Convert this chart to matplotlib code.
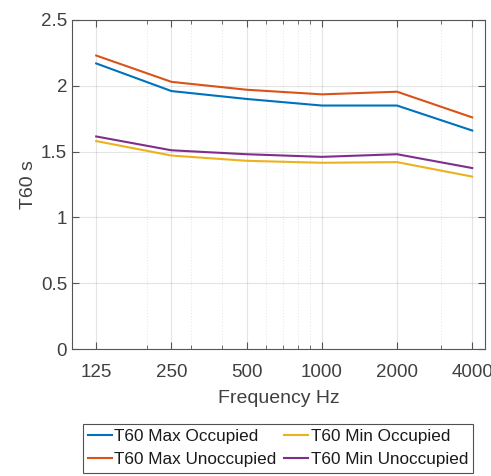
import matplotlib
matplotlib.use('Agg')
import matplotlib.pyplot as plt
from matplotlib.ticker import FixedLocator, FixedFormatter, LogLocator, NullFormatter

# Data
freqs = [125, 250, 500, 1000, 2000, 4000]
tick_labels = ['125', '250', '500', '1000', '2000', '4000']

max_occupied = [2.17, 1.96, 1.90, 1.85, 1.85, 1.66]
max_unoccupied = [2.23, 2.03, 1.97, 1.935, 1.955, 1.76]
min_occupied = [1.58, 1.47, 1.43, 1.415, 1.42, 1.31]
min_unoccupied = [1.615, 1.51, 1.48, 1.46, 1.48, 1.375]

plt.rcParams['font.family'] = ['Liberation Sans', 'DejaVu Sans']
text_col = '#404040'

fig = plt.figure(figsize=(4.91, 4.76), dpi=100)
ax = fig.add_axes([0.1466, 0.2668, 0.8412, 0.6912])

ax.plot(freqs, max_occupied, color='#0072BD', linewidth=1.5, label='T60 Max Occupied')
ax.plot(freqs, max_unoccupied, color='#D95319', linewidth=1.5, label='T60 Max Unoccupied')
ax.plot(freqs, min_occupied, color='#EDB120', linewidth=1.5, label='T60 Min Occupied')
ax.plot(freqs, min_unoccupied, color='#7E2F8E', linewidth=1.5, label='T60 Min Unoccupied')

ax.set_xscale('log')
ax.set_xlim(100, 4500)
ax.set_ylim(0, 2.5)
ax.xaxis.set_major_locator(FixedLocator(freqs))
ax.xaxis.set_major_formatter(FixedFormatter(tick_labels))
ax.xaxis.set_minor_locator(LogLocator(base=10, subs=range(2, 10)))
ax.xaxis.set_minor_formatter(NullFormatter())
ax.set_yticks([0, 0.5, 1, 1.5, 2, 2.5])
ax.set_yticklabels(['0', '0.5', '1', '1.5', '2', '2.5'])

ax.grid(True, which='major', color='#262626', alpha=0.12, linewidth=0.8)
ax.grid(True, which='minor', axis='x', color='#262626', alpha=0.1, linewidth=0.8, linestyle=':')

ax.tick_params(which='both', direction='in', top=True, right=True, colors='#555555',
               labelcolor=text_col, labelsize=13.5)
ax.tick_params(which='major', length=5)
ax.tick_params(which='minor', length=3)
ax.tick_params(axis='x', pad=11)
for s in ax.spines.values():
    s.set_color('#555555')
    s.set_linewidth(0.8)

ax.set_xlabel('Frequency Hz', fontsize=14, color=text_col, labelpad=6)
ax.set_ylabel('T60 s', fontsize=14, color=text_col, labelpad=3)

leg = fig.legend(loc='lower center', bbox_to_anchor=(0.566, 0.0), ncol=2, fontsize=12.3,
                 frameon=True, fancybox=False, edgecolor='#262626', handlelength=1.4,
                 handletextpad=0.15, columnspacing=0.45, borderpad=0.3, labelspacing=0.5,
                 borderaxespad=0.2)
leg.get_frame().set_linewidth(0.8)
for t in leg.get_texts():
    t.set_color('#1a1a1a')

fig.savefig('out.png', dpi=100)
